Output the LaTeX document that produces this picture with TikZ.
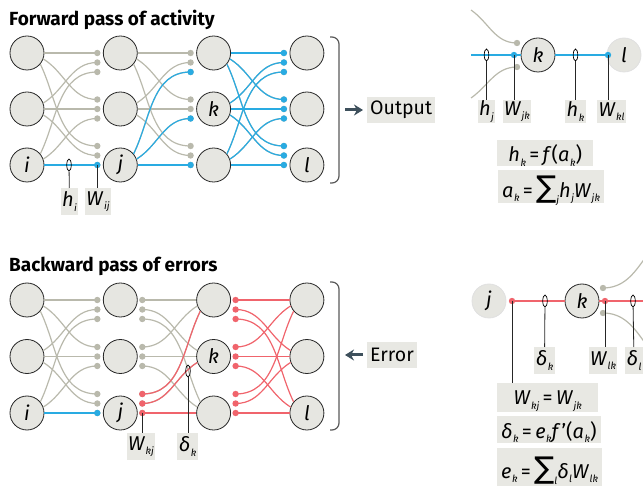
\documentclass[tikz,border=0pt]{standalone}
\usepackage{fontspec}
\setmainfont{Fira Sans}
\newfontfamily\sumfont{DejaVu Sans}
\usetikzlibrary{positioning,calc,shapes.geometric,arrows.meta}
\definecolor{nodefill}{HTML}{E6E6E1}
\definecolor{boxfill}{HTML}{E8E8E3}
\definecolor{linkgrey}{HTML}{B9B9AC}
\definecolor{linkblue}{HTML}{29ABE2}
\definecolor{linkred}{HTML}{F0646C}
\definecolor{slate}{HTML}{3E505C}
\newcommand{\var}[2]{\textit{#1}\kern0.5pt\raisebox{-4.5pt}{\fontsize{10}{10}\selectfont\itshape #2}}
\newcommand{\bigsum}{{\sumfont\fontsize{30}{30}\selectfont ∑}}
\newcommand{\fwdlink}[5]{%
  \pgfmathtruncatemacro\nxt{#3+1}%
  \pgfmathtruncatemacro\ang{-20*(#5-#4)}%
  \pgfmathtruncatemacro\outang{-32*(#5-#4)}%
  \coordinate (tip) at ($(#2-\nxt-#5)+(-23,{-9.5*(#4-#5)})$);
  \draw[link,#1] (#2-#3-#4.\ang) to[out=\outang,in=180] (tip);
  \fill[#1] (tip) circle (3.2pt);}
\newcommand{\bwdlink}[5]{%
  \pgfmathtruncatemacro\nxt{#3+1}%
  \pgfmathtruncatemacro\ang{180-20*(#5-#4)}%
  \pgfmathtruncatemacro\inang{180-32*(#5-#4)}%
  \coordinate (tip) at ($(#2-#3-#4)+(22,{-9.5*(#5-#4)})$);
  \draw[link,#1] (tip) to[out=0,in=\inang] (#2-\nxt-#5.\ang);
  \fill[#1] (tip) circle (3.2pt);}

\begin{document}
\begin{tikzpicture}[x=1pt, y=1pt, font=\fontsize{20}{22}\selectfont]
    \tikzset{neuron/.style={circle,draw=black!85,fill=nodefill,line width=0.8pt,minimum size=34pt,inner sep=0pt,font=\fontsize{20}{20}\selectfont\itshape},
             faded/.style={neuron,draw=black!12},
             link/.style={line width=1.2pt,linkgrey},
             probe/.style={ellipse,draw,line width=0.7pt,minimum width=4.5pt,minimum height=12pt,inner sep=0pt},
             stem/.style={line width=0.8pt,black!85},
             tag/.style={fill=boxfill,inner xsep=1.5pt,inner ysep=0pt,minimum height=27pt,anchor=north},
             eqn/.style={fill=boxfill,inner xsep=4pt,inner ysep=0pt,anchor=north west,text depth=0pt},
             title/.style={font=\fontsize{19}{22}\selectfont\bfseries,anchor=base west,inner sep=0pt},
             cue/.style={fill=boxfill,inner sep=3pt,minimum height=26pt,anchor=west,font=\fontsize{19.5}{22}\selectfont},
             cuearrow/.style={line width=3pt,slate,-{Stealth[length=9pt,width=11pt]}},
             brace/.style={line width=1.2pt,black!65,rounded corners=7pt}}
    \useasboundingbox (0,0) rectangle (643,-486);

    \node[title] (ftitle) at (9,-26)  {Forward pass of activity};
    \node[title] (btitle) at (9,-272) {Backward pass of errors};

    \foreach \c/\r/\name in {1/0/,1/1/,1/2/i,2/0/,2/1/,2/2/j,3/0/,3/1/k,3/2/,4/0/,4/1/,4/2/l} {
        \node[neuron] (f-\c-\r) at ({27+93.3*(\c-1)},{-53-56*\r})   {\name};
        \node[neuron] (b-\c-\r) at ({27+93.3*(\c-1)},{-300-56.5*\r}) {\name};
    }

    \foreach \c in {1,2,3} \foreach \r in {0,1,2} \foreach \t in {0,1,2}
        {\fwdlink{linkgrey}{f}{\c}{\r}{\t}}
    \fwdlink{linkblue}{f}{1}{2}{2}
    \foreach \t in {0,1,2} {\fwdlink{linkblue}{f}{2}{2}{\t}}
    \foreach \r in {0,1,2} \foreach \t in {0,1,2}
        {\fwdlink{linkblue}{f}{3}{\r}{\t}}

    \foreach \r in {0,1,2} \foreach \t in {0,1,2} {
        \fwdlink{linkgrey}{b}{1}{\r}{\t}
        \bwdlink{linkgrey}{b}{2}{\r}{\t}
    }
    \fwdlink{linkblue}{b}{1}{2}{2}
    \foreach \t in {0,1,2} {\bwdlink{linkred}{b}{2}{2}{\t}}
    \foreach \r in {0,1,2} \foreach \t in {0,1,2}
        {\bwdlink{linkred}{b}{3}{\r}{\t}}

    \node[probe] (p-hi) at (69,-165) {};
    \coordinate (d-wij) at ($(f-2-2)+(-23,0)$);
    \node[tag] (t-hi)  at (69.5,-188) {\var{h}{i}};
    \node[tag] (t-wij) at (98,-188)   {\var{W}{ij}};
    \draw[stem] (p-hi) -- (t-hi);
    \draw[stem] (d-wij) -- (d-wij |- t-wij.north);

    \coordinate (d-wkj) at ($(b-2-2)+(22,0)$);
    \node[probe] (p-dk) at (188,-371) {};
    \node[tag] (t-wkj) at (141,-433) {\var{W}{kj}};
    \node[tag] (t-dk)  at (187.5,-433) {\var{δ}{k}};
    \draw[stem] (d-wkj) -- (d-wkj |- t-wkj.north);
    \draw[stem] (p-dk) -- (p-dk |- t-dk.north);

    \draw[brace] (330,-37) -- (339,-37) -- (339,-183) -- (330,-183);
    \draw[brace] (330,-282) -- (339,-282) -- (339,-430) -- (330,-430);
    \node[cue] (output) at (367,-110) {Output};
    \coordinate (o-start) at (345,-110);
    \draw[cuearrow,shorten >=4pt] (o-start) -- (output);
    \node[cue] (error) at (367,-355) {Error};
    \coordinate (e-end) at (345,-355);
    \draw[cuearrow,shorten <=4pt] (error) -- (e-end);

    \node[neuron] (k-top) at (538,-55) {k};
    \node[faded]  (l-top) at (624,-55) {l};
    \coordinate (in-top) at (471,-55);
    \coordinate (g-up)   at (471,-10);
    \coordinate (g-lo)   at (471,-98);
    \coordinate (d-up)   at (517,-43);
    \coordinate (d-lo)   at (517,-67);
    \coordinate (d-wjk)  at (514,-55);
    \coordinate (d-wkl)  at (608,-55);
    \draw[link] (g-up) to[out=-35,in=180] (d-up);
    \draw[link] (g-lo) to[out=35,in=180] (d-lo);
    \fill[linkgrey] (d-up) circle (3.2pt) (d-lo) circle (3.2pt);
    \draw[link,linkblue] (in-top) -- (k-top);
    \draw[link,linkblue] (k-top) -- (l-top);
    \fill[linkblue] (d-wjk) circle (3.2pt) (d-wkl) circle (3.2pt);
    \node[probe] (p-hj) at (486.5,-55) {};
    \node[probe] (p-hk) at (575.5,-55) {};
    \node[tag,minimum height=23pt] (t-hj)  at (486.5,-100) {\var{h}{j}};
    \node[tag,minimum height=23pt] (t-wjk) at (517,-100)   {\var{W}{jk}};
    \node[tag,minimum height=23pt] (t-hk)  at (575.5,-100) {\var{h}{k}};
    \node[tag,minimum height=23pt] (t-wkl) at (611.5,-100) {\var{W}{kl}};
    \draw[stem] (p-hj) -- (t-hj);
    \draw[stem] (d-wjk) -- (d-wjk |- t-wjk.north);
    \draw[stem] (p-hk) -- (t-hk);
    \draw[stem] (d-wkl) -- (d-wkl |- t-wkl.north);
    \node[eqn,minimum height=26pt,minimum width=96pt] (eq-h) at (497,-140) {\var{h}{k}\,=\,\textit{f}(\var{a}{k})};
    \node[eqn,minimum height=33pt,minimum width=97pt] (eq-a) at (498,-170) {\var{a}{k}\,=\,\bigsum\raisebox{-6pt}{\fontsize{10}{10}\selectfont\itshape j}\var{h}{j}\var{W}{jk}};

    \node[faded]  (j-bot) at (489,-301) {j};
    \node[neuron] (k-bot) at (582,-301) {k};
    \coordinate (d-jk)   at (512,-301);
    \coordinate (d-wlk)  at (605,-301);
    \coordinate (out-bot) at (643,-301);
    \coordinate (d-gu)   at (603,-288);
    \coordinate (d-gl)   at (603,-313);
    \coordinate (g-ur)   at (645,-258);
    \coordinate (g-lr)   at (645,-343);
    \draw[link] (d-gu) to[out=0,in=-125] (g-ur);
    \draw[link] (d-gl) to[out=0,in=125] (g-lr);
    \fill[linkgrey] (d-gu) circle (3.2pt) (d-gl) circle (3.2pt);
    \draw[link,linkred] (d-jk) -- (k-bot);
    \draw[link,linkred] (k-bot) -- (out-bot);
    \fill[linkred] (d-jk) circle (3.2pt) (d-wlk) circle (3.2pt);
    \node[probe] (p-dk2) at (545,-301) {};
    \node[probe] (p-dl)  at (633,-301) {};
    \node[tag] (t-dk2) at (544.5,-347) {\var{δ}{k}};
    \node[tag] (t-wlk) at (603,-347)   {\var{W}{lk}};
    \node[tag] (t-dl)  at (634,-347)   {\var{δ}{l}};
    \draw[stem] (p-dk2) -- (t-dk2);
    \draw[stem] (d-wlk) -- (d-wlk |- t-wlk.north);
    \draw[stem] (p-dl) -- (t-dl);
    \node[eqn,minimum height=29pt,minimum width=101pt] (eq-w) at (497,-383) {\var{W}{kj}\,=\,\var{W}{jk}};
    \node[eqn,minimum height=27pt,minimum width=91pt]  (eq-d) at (497,-416) {\var{δ}{k}\,=\,\var{e}{k}\textit{f}\kern1pt'(\var{a}{k})};
    \node[eqn,minimum height=39pt,minimum width=101pt] (eq-e) at (497,-448) {\var{e}{k}\,=\,\bigsum\raisebox{-6pt}{\fontsize{10}{10}\selectfont\itshape l}\var{δ}{l}\var{W}{lk}};
    \draw[stem] (d-jk) -- (d-jk |- eq-w.north);
\end{tikzpicture}
\end{document}
